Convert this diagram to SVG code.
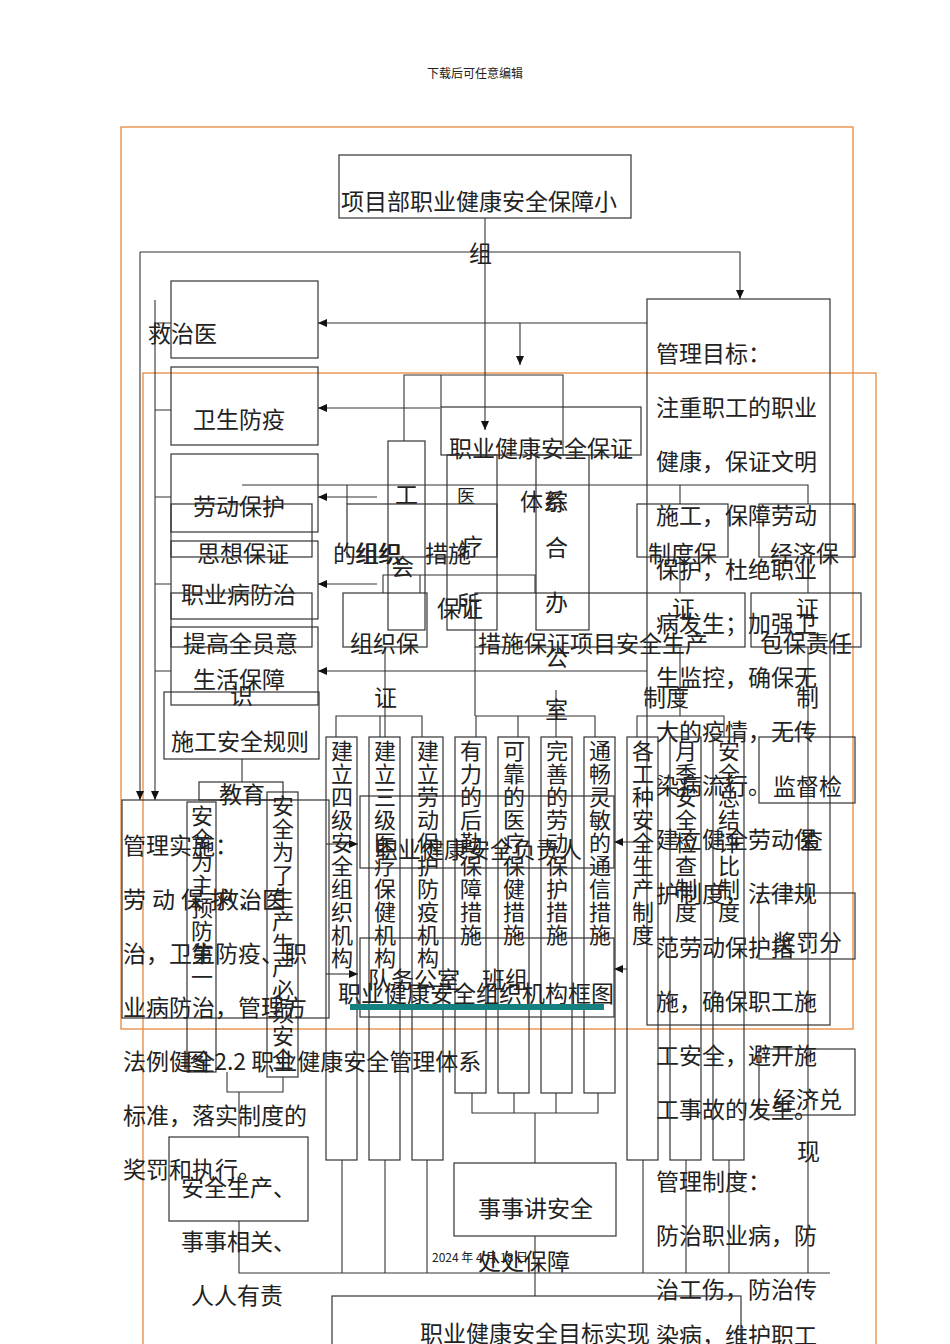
<svg xmlns="http://www.w3.org/2000/svg" width="950" height="1344" viewBox="0 0 950 1344">
<style>
.b{fill:none;stroke:#333;stroke-width:1.2}
.o{fill:none;stroke:#e8883a;stroke-width:1.3}
.l{fill:none;stroke:#333;stroke-width:1.1}
text{font-family:"Noto Sans CJK SC","Liberation Sans",sans-serif;font-size:23px;fill:#222}
.v{writing-mode:vertical-rl;letter-spacing:1px;font-size:22px}
.s{font-size:12px}
</style>
<defs><marker id="a" markerWidth="10" markerHeight="10" refX="9" refY="5" orient="auto" markerUnits="userSpaceOnUse"><path d="M0,1 L9,5 L0,9z" fill="#111"/></marker></defs>
<rect width="950" height="1344" fill="#fff"/>
<text class="s" x="475" y="78" text-anchor="middle">下载后可任意编辑</text>
<rect class="o" x="121" y="127" width="732" height="902"/>
<rect class="o" x="143" y="373" width="733" height="975"/>
<g id="connectors">
<path class="l" d="M485,218 V430" marker-end="url(#a)"/>
<path class="l" d="M140,252 H740 V299" marker-end="url(#a)"/>
<path class="l" d="M140,252 V800" marker-end="url(#a)"/>
<path class="l" d="M155,300 V800" marker-end="url(#a)"/>
<path class="l" d="M155,323 H171 M155,410 H171 M155,497 H171 M155,584 H171 M155,671 H171"/>
<path class="l" d="M647,323 H520 V365" marker-end="url(#a)"/>
<path class="l" d="M520,323 H318" marker-end="url(#a)"/>
<path class="l" d="M440,408 H318" marker-end="url(#a)"/>
<path class="l" d="M377,497 H318" marker-end="url(#a)"/>
<path class="l" d="M377,584 H318" marker-end="url(#a)"/>
<path class="l" d="M647,671 H318" marker-end="url(#a)"/>
<path class="l" d="M404,441 V375 H563 V455 M441,375 V407"/>
<path class="l" d="M242,485 H680 V504 M680,485 H808 V504 M347,504 V485"/>
<path class="l" d="M383,593 V575 H535 V593 M420,593 V575"/>
<path class="l" d="M336,737 V716 H422 V737 M385,647 V737 M380,716 V737"/>
<path class="l" d="M476,737 V716 H595 V737 M518,716 V737 M556,716 V737 M475,647 V716 M556,690 V716"/>
<path class="l" d="M637,737 V716 H724 V737 M680,647 V716 M808,647 V1273"/>
<path class="l" d="M680,557 V593 M808,557 V593"/>
<path class="l" d="M326,844 H358" marker-end="url(#a)"/>
<path class="l" d="M326,974 H358" marker-end="url(#a)"/>
<path class="l" d="M648,842 H614" marker-end="url(#a)"/>
<path class="l" d="M627,969 H614" marker-end="url(#a)"/>
<path class="l" d="M472,1093 V1113 H598 V1093 M514,1093 V1113 M556,1093 V1113 M535,1113 V1163 M535,1236 V1296"/>
<path class="l" d="M242,759 V782 M227,1072 V1092 H283 V1077 M239,1092 V1137"/>
<path class="l" d="M239,1221 V1273 H830 M342,1160 V1273 M385,1160 V1273 M427,1160 V1273 M643,1160 V1273 M686,1160 V1273 M729,1160 V1273"/>
</g>
<g id="title"><rect class="b" x="339" y="155" width="292" height="63"/><text x="341" y="210">项目部职业健康安全保障小</text><text x="469" y="262">组</text></g>
<g id="left"><rect class="b" x="171" y="281" width="147" height="77"/><text x="148" y="342">救治医</text>
<rect class="b" x="171" y="367" width="147" height="78"/><text x="193" y="428">卫生防疫</text>
<rect class="b" x="171" y="454" width="147" height="78"/><text x="193" y="515">劳动保护</text>
<rect class="b" x="171" y="541" width="147" height="78"/><text x="181" y="603">职业病防治</text>
<rect class="b" x="171" y="627" width="147" height="78"/><text x="193" y="688">生活保障</text>
<rect class="b" x="171" y="504" width="141" height="53"/><text x="197" y="562">思想保证</text>
<rect class="b" x="171" y="593" width="141" height="54"/><text x="183" y="652">提高全员意</text><text x="230" y="704">识</text>
<rect class="b" x="164" y="692" width="155" height="67"/><text x="171" y="750">施工安全规则</text></g>
<g id="mid">
<rect class="b" x="441" y="407" width="200" height="48"/><text x="449" y="457">职业健康安全保证</text><text x="520" y="510">体系</text>
<rect class="b" x="388" y="441" width="37" height="189"/><text x="395" y="503">工</text><text x="391" y="575">会</text>
<rect class="b" x="447" y="455" width="50" height="175"/><text x="457" y="503" style="font-size:18px">医</text><text x="460" y="555">疗</text><text x="457" y="612">所</text>
<rect class="b" x="536" y="455" width="53" height="175"/><text x="545" y="510">综</text><text x="545" y="556">合</text><text x="545" y="611">办</text><text x="545" y="666">公</text><text x="545" y="718">室</text>
<rect class="b" x="347" y="504" width="150" height="53"/><text x="333" y="562">的组织</text><text x="355" y="562">组织</text><text x="425" y="562">措施</text>
<rect class="b" x="343" y="593" width="84" height="54"/><text x="350" y="652">组织保</text><text x="374" y="706">证</text><text x="437" y="617">保证</text>
<rect class="b" x="475" y="593" width="270" height="54"/><text x="478" y="652">措施保证</text><text x="570" y="652">项目安全生产</text><text x="643" y="706">制度</text>
<rect class="b" x="637" y="504" width="91" height="53"/><text x="648" y="562">制度保</text><text x="672" y="617">证</text>
<rect class="b" x="759" y="504" width="96" height="53"/><text x="770" y="562">经济保</text><text x="796" y="617">证</text>
<rect class="b" x="751" y="593" width="110" height="54"/><text x="760" y="652">包保责任</text><text x="796" y="706">制</text>
</g>
<g id="right">
<rect class="b" x="647" y="299" width="183" height="726"/>
<rect class="b" x="759" y="737" width="96" height="66"/><text x="773" y="795">监督检</text><text x="800" y="849">查</text>
<rect class="b" x="759" y="893" width="96" height="66"/><text x="773" y="951">奖罚分</text>
<rect class="b" x="759" y="1049" width="96" height="66"/><text x="773" y="1108">经济兑</text><text x="797" y="1160">现</text>
<text x="656" y="362">管理目标：</text><text x="656" y="416">注重职工的职业</text><text x="656" y="470">健康，保证文明</text><text x="656" y="524">施工，保障劳动</text><text x="656" y="578">保护，杜绝职业</text><text x="656" y="632">病发生；加强卫</text><text x="656" y="686">生监控，确保无</text><text x="656" y="740">大的疫情，无传</text><text x="656" y="794">染病流行。</text><text x="656" y="848">建立健全劳动保</text><text x="656" y="902">护制度，法律规</text><text x="656" y="956">范劳动保护措</text><text x="656" y="1010">施，确保职工施</text><text x="656" y="1064">工安全，避开施</text><text x="656" y="1118">工事故的发生。</text><text x="656" y="1190">管理制度：</text><text x="656" y="1244">防治职业病，防</text><text x="656" y="1298">治工伤，防治传</text><text x="656" y="1344">染病，维护职工</text>
</g>
<g id="cols">
<rect class="b" x="326" y="737" width="31" height="423"/><text class="v" x="342" y="740">建立四级安全组织机构</text>
<rect class="b" x="369" y="737" width="31" height="423"/><text class="v" x="385" y="740">建立三级医疗保健机构</text>
<rect class="b" x="412" y="737" width="31" height="423"/><text class="v" x="428" y="740">建立劳动保护防疫机构</text>
<rect class="b" x="455" y="737" width="31" height="356"/><text class="v" x="471" y="740">有力的后勤保障措施</text>
<rect class="b" x="498" y="737" width="31" height="356"/><text class="v" x="514" y="740">可靠的医疗保健措施</text>
<rect class="b" x="541" y="737" width="31" height="356"/><text class="v" x="557" y="740">完善的劳动保护措施</text>
<rect class="b" x="584" y="737" width="31" height="356"/><text class="v" x="600" y="740">通畅灵敏的通信措施</text>
<rect class="b" x="627" y="737" width="31" height="423"/><text class="v" x="643" y="740">各工种安全生产制度</text>
<rect class="b" x="670" y="737" width="31" height="423"/><text class="v" x="686" y="740">月季安全检查制度</text>
<rect class="b" x="713" y="737" width="31" height="423"/><text class="v" x="729" y="740">安全总结评比制度</text>
</g>
<g id="center">
<rect class="b" x="360" y="796" width="254" height="72"/><text x="375" y="858">职业健康安全负责人</text>
<rect class="b" x="360" y="938" width="254" height="79"/><text x="368" y="988">队务公室</text><text x="482" y="988">班组</text><text x="338" y="1002">职业健康安全组织机构框图</text>
<rect x="350" y="1004" width="254" height="6" fill="#158080"/>
</g>
<g id="impl">
<rect class="b" x="122" y="800" width="207" height="218"/>
<rect class="b" x="199" y="782" width="84" height="18"/><text x="219" y="803">教育</text>
<rect class="b" x="187" y="802" width="29" height="270"/><text class="v" x="202" y="805">安全为主预防第一</text>
<rect class="b" x="267" y="792" width="31" height="285"/><text class="v" x="283" y="795">安全为了生产生产必须安全</text>
<text x="123" y="854">管理实施：</text><text x="123" y="908" letter-spacing="6">劳动保护、</text><text x="216" y="908">救治医</text><text x="123" y="962">治，卫生防疫、职</text><text x="123" y="1016">业病防治，管理方</text><text x="123" y="1070">法例健全</text><text x="186" y="1070">图 2.2 职业健康安全管理体系</text><text x="123" y="1124">标准，落实制度的</text><text x="123" y="1178">奖罚和执行。</text>
</g>
<g id="bottom">
<rect class="b" x="169" y="1137" width="139" height="84"/><text x="181" y="1196">安全生产、</text><text x="181" y="1250">事事相关、</text><text x="191" y="1304">人人有责</text>
<rect class="b" x="454" y="1163" width="162" height="73"/><text x="478" y="1217">事事讲安全</text><text x="478" y="1270">处处保障</text>
<text class="s" x="432" y="1262">2024 年 4 月 18 日</text>
<rect class="b" x="332" y="1296" width="409" height="60"/><text x="420" y="1342">职业健康安全目标实现</text>
</g>
</svg>
